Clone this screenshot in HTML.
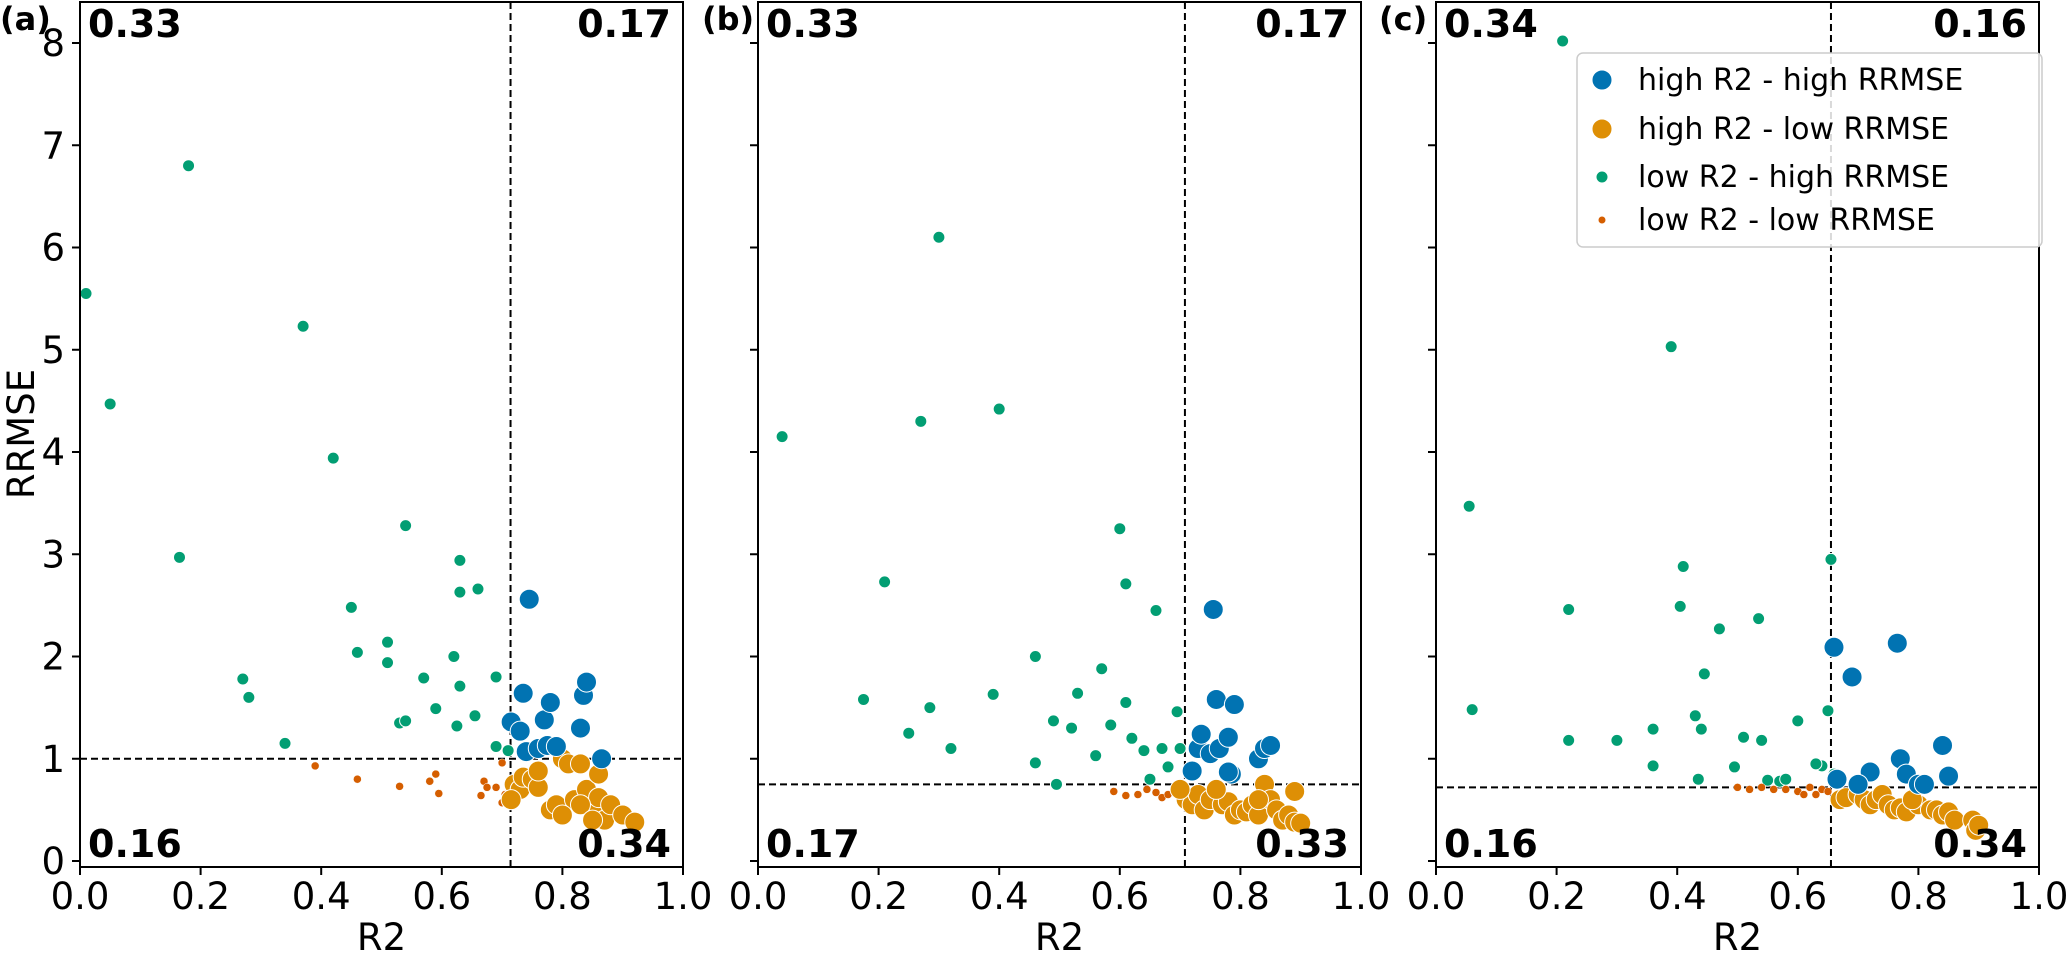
<!DOCTYPE html>
<html><head><meta charset="utf-8"><style>
html,body{margin:0;padding:0;background:#fff;}
svg{display:block;font-family:"DejaVu Sans","Liberation Sans",sans-serif;}
</style></head><body>
<svg id="fig" width="2067" height="955" viewBox="0 0 2067 955" xmlns="http://www.w3.org/2000/svg"></svg>
<script>
const xTicks=[0,0.2,0.4,0.6,0.8,1.0];
const xTickLabels=["0.0","0.2","0.4","0.6","0.8","1.0"];
const yTicks=[0,1,2,3,4,5,6,7,8];
const yTickLabels=["0","1","2","3","4","5","6","7","8"];
const panelLabels=["(a)","(b)","(c)"];
const thrR2=[0.714,0.708,0.655];
const thrRRMSE=[1.0,0.75,0.72];
const quadTL=["0.33","0.33","0.34"],quadTR=["0.17","0.17","0.16"],quadBL=["0.16","0.17","0.16"],quadBR=["0.34","0.33","0.34"];
const seriesNames=["high R2 - high RRMSE","high R2 - low RRMSE","low R2 - high RRMSE","low R2 - low RRMSE"];
// panel a
const aHH_x=[0.715,0.73,0.735,0.745,0.74,0.76,0.77,0.775,0.78,0.79,0.83,0.835,0.84,0.865];
const aHH_y=[1.36,1.27,1.64,2.56,1.07,1.1,1.38,1.13,1.55,1.12,1.3,1.62,1.75,1.0];
const aHL_x=[0.72,0.73,0.715,0.735,0.75,0.76,0.76,0.78,0.79,0.8,0.81,0.82,0.83,0.84,0.85,0.86,0.86,0.87,0.88,0.9,0.92,0.83,0.85,0.8];
const aHL_y=[0.75,0.7,0.6,0.82,0.8,0.72,0.88,0.5,0.55,1.0,0.95,0.6,0.95,0.7,0.5,0.85,0.62,0.4,0.55,0.45,0.38,0.55,0.4,0.45];
const aLH_x=[0.01,0.05,0.18,0.165,0.37,0.42,0.27,0.28,0.34,0.45,0.46,0.51,0.51,0.53,0.54,0.54,0.57,0.59,0.62,0.63,0.63,0.63,0.625,0.655,0.66,0.69,0.69,0.71];
const aLH_y=[5.55,4.47,6.8,2.97,5.23,3.94,1.78,1.6,1.15,2.48,2.04,2.14,1.94,1.35,1.37,3.28,1.79,1.49,2.0,2.94,2.63,1.71,1.32,1.42,2.66,1.8,1.12,1.08];
const aLL_x=[0.39,0.46,0.53,0.58,0.59,0.595,0.665,0.67,0.675,0.69,0.7,0.7,0.705];
const aLL_y=[0.93,0.8,0.73,0.78,0.85,0.66,0.64,0.78,0.72,0.72,0.96,0.57,0.65];
// panel b
const bHH_x=[0.72,0.73,0.735,0.75,0.755,0.76,0.765,0.78,0.785,0.79,0.78,0.83,0.84,0.85];
const bHH_y=[0.88,1.1,1.24,1.05,2.46,1.58,1.1,1.21,0.85,1.53,0.87,1.0,1.1,1.13];
const bHL_x=[0.71,0.72,0.73,0.74,0.75,0.77,0.78,0.79,0.8,0.81,0.82,0.83,0.84,0.85,0.86,0.87,0.88,0.89,0.9,0.89,0.76,0.83,0.7];
const bHL_y=[0.6,0.55,0.65,0.5,0.6,0.55,0.58,0.45,0.5,0.48,0.55,0.45,0.75,0.6,0.5,0.4,0.45,0.38,0.37,0.68,0.7,0.6,0.7];
const bLH_x=[0.04,0.3,0.27,0.4,0.21,0.175,0.25,0.285,0.32,0.39,0.46,0.46,0.49,0.495,0.52,0.53,0.56,0.57,0.585,0.6,0.61,0.61,0.62,0.64,0.66,0.67,0.68,0.695,0.7,0.65];
const bLH_y=[4.15,6.1,4.3,4.42,2.73,1.58,1.25,1.5,1.1,1.63,2.0,0.96,1.37,0.75,1.3,1.64,1.03,1.88,1.33,3.25,2.71,1.55,1.2,1.08,2.45,1.1,0.92,1.46,1.1,0.8];
const bLL_x=[0.59,0.61,0.63,0.645,0.66,0.67,0.68,0.69,0.7];
const bLL_y=[0.68,0.64,0.65,0.7,0.67,0.62,0.65,0.7,0.72];
// panel c
const cHH_x=[0.66,0.69,0.665,0.72,0.765,0.77,0.78,0.8,0.81,0.84,0.85,0.7];
const cHH_y=[2.09,1.8,0.8,0.87,2.13,1.0,0.85,0.75,0.75,1.13,0.83,0.75];
const cHL_x=[0.67,0.68,0.7,0.71,0.72,0.73,0.74,0.75,0.76,0.77,0.78,0.8,0.82,0.83,0.84,0.85,0.86,0.89,0.895,0.9,0.79];
const cHL_y=[0.6,0.62,0.65,0.6,0.55,0.6,0.65,0.55,0.5,0.52,0.48,0.55,0.5,0.5,0.45,0.48,0.4,0.4,0.3,0.35,0.6];
const cLH_x=[0.055,0.06,0.21,0.22,0.22,0.3,0.36,0.36,0.39,0.405,0.41,0.43,0.435,0.44,0.445,0.47,0.495,0.51,0.535,0.54,0.55,0.57,0.58,0.6,0.64,0.65,0.655,0.66,0.63];
const cLH_y=[3.47,1.48,8.02,2.46,1.18,1.18,1.29,0.93,5.03,2.49,2.88,1.42,0.8,1.29,1.83,2.27,0.92,1.21,2.37,1.18,0.79,0.78,0.8,1.37,0.93,1.47,2.95,0.85,0.95];
const cLL_x=[0.5,0.52,0.54,0.56,0.58,0.6,0.61,0.62,0.63,0.64,0.65];
const cLL_y=[0.72,0.7,0.72,0.7,0.7,0.68,0.65,0.72,0.65,0.7,0.68];

const panels=[
 {left:80,lab:0,HH:[aHH_x,aHH_y],HL:[aHL_x,aHL_y],LH:[aLH_x,aLH_y],LL:[aLL_x,aLL_y]},
 {left:758,lab:702,HH:[bHH_x,bHH_y],HL:[bHL_x,bHL_y],LH:[bLH_x,bLH_y],LL:[bLL_x,bLL_y]},
 {left:1436,lab:1379,HH:[cHH_x,cHH_y],HL:[cHL_x,cHL_y],LH:[cLH_x,cLH_y],LL:[cLL_x,cLL_y]}
];
const W=603,TOP=2,BOT=867;
const yS=v=>861-v*102.25;
const NS="http://www.w3.org/2000/svg";
const svg=document.getElementById('fig');
function mk(tag,attrs,parent,text){const e=document.createElementNS(NS,tag);for(const k in attrs)e.setAttribute(k,attrs[k]);if(text!==undefined)e.textContent=text;(parent||svg).appendChild(e);return e;}
const colors={HH:"#0173b2",HL:"#de8f05",LH:"#029e73",LL:"#d55e00"};
const radii={HH:10,HL:10,LH:6,LL:4};
panels.forEach((p,i)=>{
 const xS=v=>p.left+v*W;
 const g=mk('g',{});
 
 
 const vl=mk('line',{x1:xS(thrR2[i]),x2:xS(thrR2[i]),y1:TOP,y2:BOT,stroke:"#000","stroke-width":2,"stroke-dasharray":"7,4"},g);
 
 
 const hl=mk('line',{x1:p.left,x2:p.left+W,y1:yS(thrRRMSE[i]),y2:yS(thrRRMSE[i]),stroke:"#000","stroke-width":2,"stroke-dasharray":"7,4"},g);
 
 
 ["LH","LL","HL","HH"].forEach(k=>{
  const [xs,ys]=p[k];
  xs.forEach((xv,j)=>{
   const c=mk('circle',{cx:xS(xv),cy:yS(ys[j]),r:radii[k],fill:colors[k],stroke:"#fff","stroke-width":k==="LL"?0.5:1},g);
   
   
  });
 });
 const fr=mk('rect',{x:p.left,y:TOP,width:W,height:BOT-TOP,fill:"none",stroke:"#000","stroke-width":2},g);
 
 
 xTicks.forEach((t,j)=>{
  mk('line',{x1:xS(t),x2:xS(t),y1:BOT,y2:BOT+8,stroke:"#000","stroke-width":2},g);
  const tl=mk('text',{x:xS(t),y:909,"font-size":37,"text-anchor":"middle"},g,xTickLabels[j]);
  
  
 });
 yTicks.forEach((t,j)=>{
  mk('line',{x1:p.left-8,x2:p.left,y1:yS(t),y2:yS(t),stroke:"#000","stroke-width":2},g);
  if(i===0){
   const tl=mk('text',{x:p.left-15,y:yS(t)+13,"font-size":37,"text-anchor":"end"},g,yTickLabels[j]);
   
   
  }
 });
 const xl=mk('text',{x:p.left+W/2,y:950,"font-size":37,"text-anchor":"middle"},g,"R2");
 
 
 const pl=mk('text',{x:p.lab,y:30,"font-size":32,"font-weight":"bold"},g,panelLabels[i]);
 
 
 const q=[[quadTL[i],p.left+8,37,"start"],[quadTR[i],p.left+W-12,37,"end"],[quadBL[i],p.left+8,857,"start"],[quadBR[i],p.left+W-12,857,"end"]];
 q.forEach((qq,j)=>{
  const t=mk('text',{x:qq[1],y:qq[2],"font-size":38,"font-weight":"bold","text-anchor":qq[3]},g,qq[0]);
  
  
 });
});
const yl=mk('text',{x:0,y:0,"font-size":37,"text-anchor":"middle",transform:"translate(34,434) rotate(-90)"},svg,"RRMSE");


const lg=mk('g',{});


mk('rect',{x:1577,y:53,width:465,height:194,rx:6,fill:"#fff","fill-opacity":0.85,stroke:"#ccc","stroke-width":1.5},lg);
const legY=[80,129,177,220];
const legK=["HH","HL","LH","LL"];
seriesNames.forEach((n,j)=>{
 const e=mk('g',{},lg);
 
 
 mk('circle',{cx:1602,cy:legY[j],r:radii[legK[j]],fill:colors[legK[j]],stroke:"#fff","stroke-width":1},e);
 mk('text',{x:1638,y:legY[j]+10,"font-size":30},e,n);
});
</script>
</body></html>
